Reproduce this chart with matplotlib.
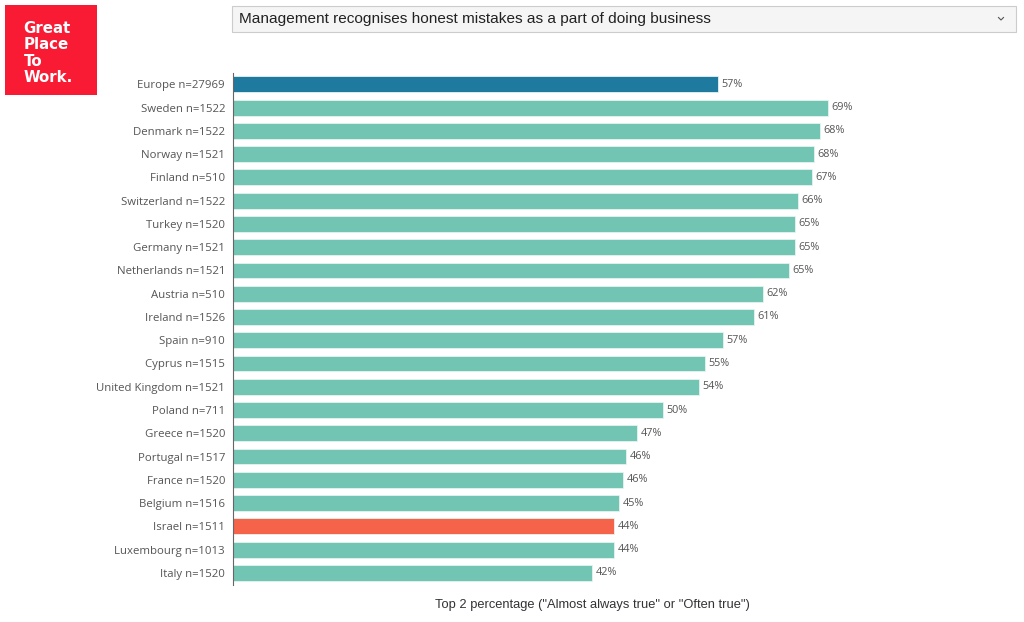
import matplotlib
matplotlib.use("Agg")
import matplotlib.pyplot as plt
from matplotlib.patches import Rectangle

categories = ["Europe n=27969", "Sweden n=1522", "Denmark n=1522", "Norway n=1521",
              "Finland n=510", "Switzerland n=1522", "Turkey n=1520", "Germany n=1521",
              "Netherlands n=1521", "Austria n=510", "Ireland n=1526", "Spain n=910",
              "Cyprus n=1515", "United Kingdom n=1521", "Poland n=711", "Greece n=1520",
              "Portugal n=1517", "France n=1520", "Belgium n=1516", "Israel n=1511",
              "Luxembourg n=1013", "Italy n=1520"]
values = [56.56, 69.38, 68.45, 67.79, 67.48, 65.92, 65.54, 65.50, 64.80, 61.81,
          60.72, 57.18, 55.05, 54.35, 50.12, 47.16, 45.84, 45.53, 45.06, 44.48,
          44.44, 41.88]
labels = ["57%", "69%", "68%", "68%", "67%", "66%", "65%", "65%", "65%", "62%",
          "61%", "57%", "55%", "54%", "50%", "47%", "46%", "46%", "45%", "44%",
          "44%", "42%"]
highlight = {"Europe n=27969": "#1f7aa0", "Israel n=1511": "#f4634a"}
base_color = "#73c5b3"
title = "Management recognises honest mistakes as a part of doing business"
xlabel = 'Top 2 percentage ("Almost always true" or "Often true")'
logo_words = ["Great", "Place", "To", "Work."]

W, H = 1024, 622
fig = plt.figure(figsize=(W / 100, H / 100), dpi=100)
fig.patch.set_facecolor("white")

left, right = 232.7, 951.0
top, bottom = 72.7, 584.5
ax = fig.add_axes([left / W, 1 - bottom / H, (right - left) / W, (bottom - top) / H])
n = len(categories)
ypos = list(range(n))
colors = [highlight.get(c, base_color) for c in categories]
ax.barh(ypos, values, height=0.68, color=colors, edgecolor="#e6f4f0", linewidth=0.6)
ax.set_ylim(n - 0.5, -0.5)
ax.set_xlim(0, (right - left) / 8.58)
ax.set_yticks(ypos)
ax.set_yticklabels(categories, fontsize=8.2, color="#555555", family="Open Sans")
ax.tick_params(axis="y", length=0, pad=5.5)
ax.set_xticks([])
for s in ["top", "right", "bottom"]:
    ax.spines[s].set_visible(False)
ax.spines["left"].set_color("#666666")
ax.spines["left"].set_linewidth(0.8)
for y, v, t in zip(ypos, values, labels):
    ax.annotate(t, (v, y), xytext=(2.5, 0), textcoords="offset points",
                va="center", ha="left", fontsize=7.8, color="#555555", family="Open Sans")

fig.text(592 / W, 1 - 605 / H, xlabel, ha="center", va="center", fontsize=9.3,
         color="#333333", family="Liberation Sans")

ov = fig.add_axes([0, 0, 1, 1], zorder=-1)
ov.set_xlim(0, W)
ov.set_ylim(H, 0)
ov.axis("off")
ov.add_patch(Rectangle((5, 5), 92, 90, facecolor="#f91b33", edgecolor="none"))
for i, word in enumerate(logo_words):
    ov.text(23.5, 33 + i * 16.3, word, color="white", fontsize=10.8, fontweight="bold",
            family="DejaVu Sans", va="baseline", ha="left")
ov.add_patch(Rectangle((232, 6), 784, 26, facecolor="#f5f5f5", edgecolor="#cccccc", linewidth=0.8))
ov.text(239, 19.5, title, fontsize=11.1, color="#222222", family="Liberation Sans",
        va="center", ha="left")
ov.plot([998.5, 1001, 1003.5], [17.5, 20, 17.5], color="#555555", linewidth=0.8)

fig.savefig("out.png", dpi=100, facecolor="white")
